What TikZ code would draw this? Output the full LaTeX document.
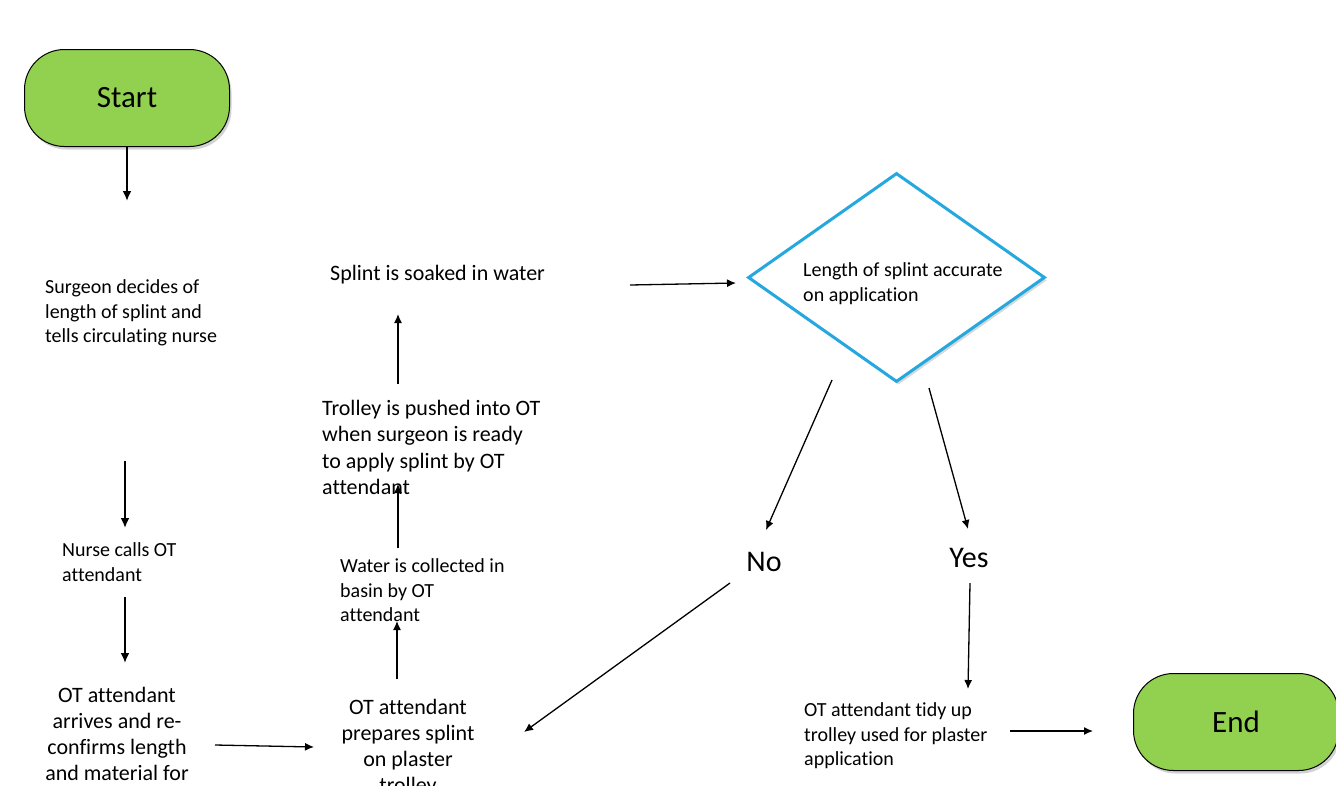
\documentclass[tikz,border=0pt]{standalone}
\usepackage{fontspec}
\setmainfont{Carlito}[Ligatures={NoCommon}]
\usetikzlibrary{shapes.geometric,shadows,arrows.meta}
\definecolor{termgreen}{HTML}{92D050}
\definecolor{decblue}{HTML}{25A8DF}
\begin{document}
\begin{tikzpicture}[x=1pt,y=-1pt,
  term/.style={rectangle, rounded corners=40pt, draw=black, line width=1pt, fill=termgreen,
    minimum width=205pt, minimum height=97pt, inner sep=0pt,
    font=\fontsize{31}{36}\selectfont,
    drop shadow={opacity=0.35, shadow xshift=2pt, shadow yshift=-3pt}},
  decision/.style={diamond, draw=decblue, line width=3pt, fill=white, inner sep=0pt,
    minimum width=297pt, minimum height=209pt,
    drop shadow={opacity=0.3, shadow xshift=2pt, shadow yshift=-3pt}},
  small/.style={inner sep=0pt, align=left, font=\fontsize{20}{24.4}\selectfont},
  medium/.style={inner sep=0pt, align=left, font=\fontsize{22}{26.5}\selectfont},
  mediumc/.style={inner sep=0pt, align=center, font=\fontsize{22}{26.2}\selectfont},
  big/.style={inner sep=0pt, font=\fontsize{30}{34}\selectfont},
  thickarr/.style={line width=2pt, -{Latex[length=10pt,width=9pt]}},
  thinarr/.style={line width=1.3pt, -{Latex[length=9pt,width=8pt]}}]
\useasboundingbox (0,0) rectangle (1336,785);
\fill[white] (0,0) rectangle (1336,785);

% terminals
\node[term] (start) at (127,98) {\raisebox{-2pt}{Start}};
\node[term] (end) at (1236,722) {End};

% decision
\node[decision] (dec) at (896.5,277.5) {};
\node[small, anchor=north west] (dectext) at (803,262.6) {Length of splint accurate\\on application};

% process texts
\node[small, anchor=north west] (surg) at (45,279.6) {Surgeon decides of\\length of splint and\\tells circulating nurse};
\node[small, anchor=north west] (nurse) at (62,542.6) {Nurse calls OT\\attendant};
\node[mediumc, anchor=north] (arrive) at (117,686.7) {OT attendant\\arrives and re-\\confirms length\\and material for};
\node[mediumc, anchor=north] (prep) at (408,698.7) {OT attendant\\prepares splint\\on plaster\\trolley};
\node[small, anchor=north west] (water) at (340,558.6) {Water is collected in\\basin by OT\\attendant};
\node[medium, anchor=north west] (push) at (322,399.7) {Trolley is pushed into OT\\when surgeon is ready\\to apply splint by OT\\attendant};
\node[medium, anchor=north west] (soak) at (330,264.7) {Splint is soaked in water};
\node[small, anchor=north west] (tidy) at (804,702.6) {OT attendant tidy up\\trolley used for plaster\\application};
\node[big] (no) at (764,562) {No};
\node[big] (yes) at (969,558) {Yes};

% connector end points
\coordinate (start-out) at (127,201);
\coordinate (surg-out) at (125,461);
\coordinate (nurse-in) at (125,528);
\coordinate (nurse-out) at (125,597);
\coordinate (arrive-in) at (125,663);
\coordinate (arrive-out) at (215,745);
\coordinate (prep-in) at (314,747);
\coordinate (prep-out) at (397,679);
\coordinate (water-in) at (397,621);
\coordinate (water-out) at (398,548);
\coordinate (push-in) at (398,484);
\coordinate (push-out) at (398,384);
\coordinate (soak-in) at (398,314);
\coordinate (soak-out) at (630,285);
\coordinate (dec-in) at (736,283);
\coordinate (dec-outno) at (832,380);
\coordinate (no-in) at (766,530);
\coordinate (dec-outyes) at (929,388);
\coordinate (yes-in) at (968,529);
\coordinate (no-out) at (730,583);
\coordinate (prep-in2) at (524,732);
\coordinate (yes-out) at (970,583);
\coordinate (tidy-in) at (968,689);
\coordinate (tidy-out) at (1010,731);
\coordinate (end-in) at (1093,731);

% connectors
\draw[thickarr] (start.south) -- (start-out);
\draw[thickarr] (surg-out) -- (nurse-in);
\draw[thickarr] (nurse-out) -- (arrive-in);
\draw[thinarr] (arrive-out) -- (prep-in);
\draw[thinarr] (prep-out) -- (water-in);
\draw[thinarr] (water-out) -- (push-in);
\draw[thinarr] (push-out) -- (soak-in);
\draw[thinarr] (soak-out) -- (dec-in);
\draw[thinarr] (dec-outno) -- (no-in);
\draw[thinarr] (dec-outyes) -- (yes-in);
\draw[thinarr] (no-out) -- (prep-in2);
\draw[thinarr] (yes-out) -- (tidy-in);
\draw[thinarr] (tidy-out) -- (end-in);
\end{tikzpicture}
\end{document}
